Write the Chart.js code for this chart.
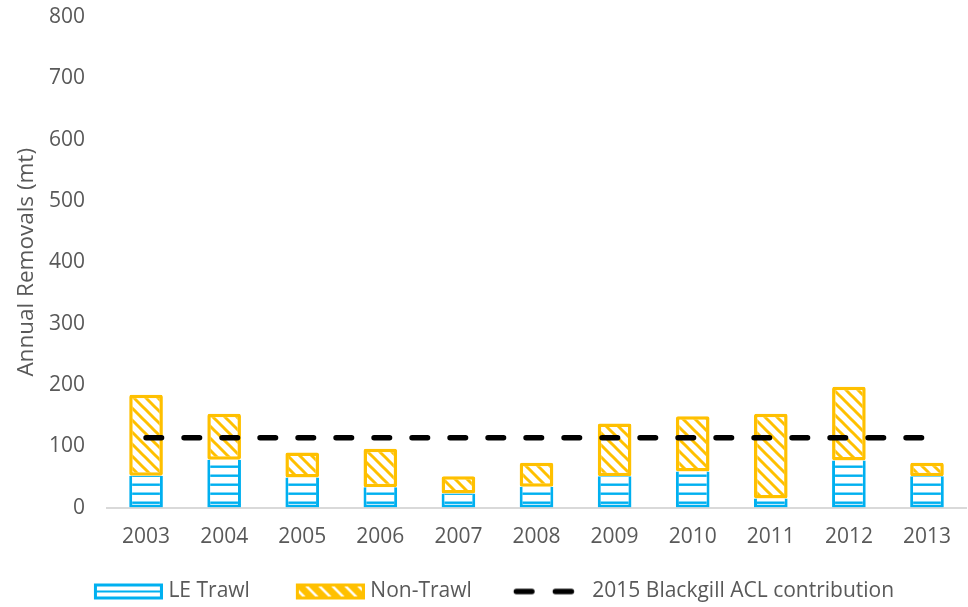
<!DOCTYPE html>
<html><head><meta charset="utf-8">
<script src="https://cdn.jsdelivr.net/npm/chart.js@4.4.1/dist/chart.umd.min.js"></script>
<style>html,body{margin:0;padding:0;background:#fff}#wrap{width:968px;height:607px;position:relative}</style>
</head><body><div id="wrap"><canvas id="c"></canvas></div>
<script>
const years = ['2003','2004','2005','2006','2007','2008','2009','2010','2011','2012','2013'];
const leTrawl = [52, 78, 49, 33, 23, 34, 51, 59, 15, 77, 51];
const nonTrawl = [132, 75, 41, 63, 28, 39, 86, 90, 138, 120, 22];
const aclContribution = [114, 114, 114, 114, 114, 114, 114, 114, 114, 114, 114];
const seriesNames = ['LE Trawl', 'Non-Trawl', '2015 Blackgill ACL contribution'];
const yAxisTitle = 'Annual Removals (mt)';
const yMin = 0, yMax = 800, yStep = 100;

const BLUE = '#00B0F0', YELLOW = '#FFC000', TEXT = '#595959', AXIS = '#D9D9D9';

const canvas = document.getElementById('c');
const ctx = canvas.getContext('2d');

function mk(w, h) { const c = document.createElement('canvas'); c.width = w; c.height = h; return c; }

function hPattern() {
  const c = mk(9, 9), x = c.getContext('2d');
  x.fillStyle = '#fff'; x.fillRect(0, 0, 9, 9);
  x.fillStyle = BLUE; x.fillRect(0, 6.5, 9, 2.4);
  return ctx.createPattern(c, 'repeat');
}
function dPattern() {
  const s = 12, c = mk(s, s), x = c.getContext('2d');
  x.fillStyle = '#fff'; x.fillRect(0, 0, s, s);
  x.strokeStyle = YELLOW; x.lineWidth = 3;
  for (const k of [-1, 0, 1]) { x.beginPath(); x.moveTo(k * s - 2, -2); x.lineTo(k * s + s + 2, s + 2); x.stroke(); }
  return ctx.createPattern(c, 'repeat');
}

// legend icons (88x20, icon region right-aligned at x 19..88)
function iconLE() {
  const c = mk(88, 20), x = c.getContext('2d');
  x.fillStyle = '#fff'; x.fillRect(19, 2, 69, 16);
  x.strokeStyle = BLUE; x.lineWidth = 3; x.strokeRect(20.5, 3.5, 66, 13);
  x.fillStyle = BLUE; x.fillRect(20, 9, 67, 2);
  return c;
}
function iconNT() {
  const c = mk(88, 20), x = c.getContext('2d');
  x.fillStyle = YELLOW; x.fillRect(19, 2, 69, 16);
  x.save(); x.beginPath(); x.rect(22, 5, 63, 10); x.clip();
  x.strokeStyle = '#fff'; x.lineWidth = 2.5;
  for (let p = 14; p < 100; p += 13) { x.beginPath(); x.moveTo(p, 2); x.lineTo(p + 16, 18); x.stroke(); }
  x.restore();
  return c;
}
function iconACL() {
  const c = mk(88, 20), x = c.getContext('2d');
  x.strokeStyle = '#000'; x.lineWidth = 5.5; x.lineCap = 'round';
  x.beginPath(); x.moveTo(17.5, 10); x.lineTo(33, 10); x.stroke();
  x.beginPath(); x.moveTo(56.5, 10); x.lineTo(72.5, 10); x.stroke();
  return c;
}

Chart.defaults.font.family = "'Open Sans', sans-serif";
Chart.defaults.font.size = 21;
Chart.defaults.color = TEXT;

new Chart(ctx, {
  data: {
    labels: years,
    datasets: [
      { type: 'line', label: seriesNames[2], data: aclContribution, stack: 'acl',
        borderColor: '#000', borderWidth: 5.5, borderDash: [15.5, 22.5], borderCapStyle: 'round',
        pointRadius: 0, fill: false, tension: 0 },
      { type: 'bar', label: seriesNames[0], data: leTrawl, stack: 'bars',
        backgroundColor: hPattern(), borderColor: BLUE, borderWidth: 3, borderSkipped: 'top',
        barPercentage: 0.431, categoryPercentage: 1 },
      { type: 'bar', label: seriesNames[1], data: nonTrawl, stack: 'bars',
        backgroundColor: dPattern(), borderColor: YELLOW, borderWidth: 3.5, borderSkipped: false, borderRadius: 2,
        barPercentage: 0.431, categoryPercentage: 1 }
    ]
  },
  options: {
    responsive: true, maintainAspectRatio: false, animation: false,
    layout: { padding: { top: 0, right: -6, bottom: -5, left: 0 } },
    plugins: {
      tooltip: { enabled: false },
      legend: {
        position: 'bottom', align: 'center',
        labels: {
          usePointStyle: true, pointStyleWidth: 78, padding: 32,
          font: { size: 21 }, color: TEXT,
          generateLabels: () => [
            { text: seriesNames[0], pointStyle: iconLE(), datasetIndex: 1, hidden: false, lineWidth: 0, fillStyle: 'transparent', strokeStyle: 'transparent', fontColor: TEXT },
            { text: seriesNames[1], pointStyle: iconNT(), datasetIndex: 2, hidden: false, lineWidth: 0, fillStyle: 'transparent', strokeStyle: 'transparent', fontColor: TEXT },
            { text: seriesNames[2], pointStyle: iconACL(), datasetIndex: 0, hidden: false, lineWidth: 0, fillStyle: 'transparent', strokeStyle: 'transparent', fontColor: TEXT }
          ]
        },
        onClick: null
      }
    },
    scales: {
      x: {
        stacked: true,
        grid: { display: false, drawTicks: false },
        border: { display: true, color: AXIS, width: 2 },
        ticks: { padding: 17, color: TEXT, font: { size: 21 } },
        afterFit: s => { s.height = 41.4; }
      },
      y: {
        stacked: true, min: yMin, max: yMax,
        grid: { display: false, drawTicks: false },
        border: { display: false },
        ticks: { stepSize: yStep, padding: 22, color: TEXT, font: { size: 21 } },
        title: { display: true, text: yAxisTitle, color: TEXT, font: { size: 22.5 }, padding: { top: 13, bottom: 0 } },
        afterFit: s => { s.width = 107; s.paddingTop = 17; s.paddingBottom = 0; }
      }
    }
  }
});
</script>
</body></html>
